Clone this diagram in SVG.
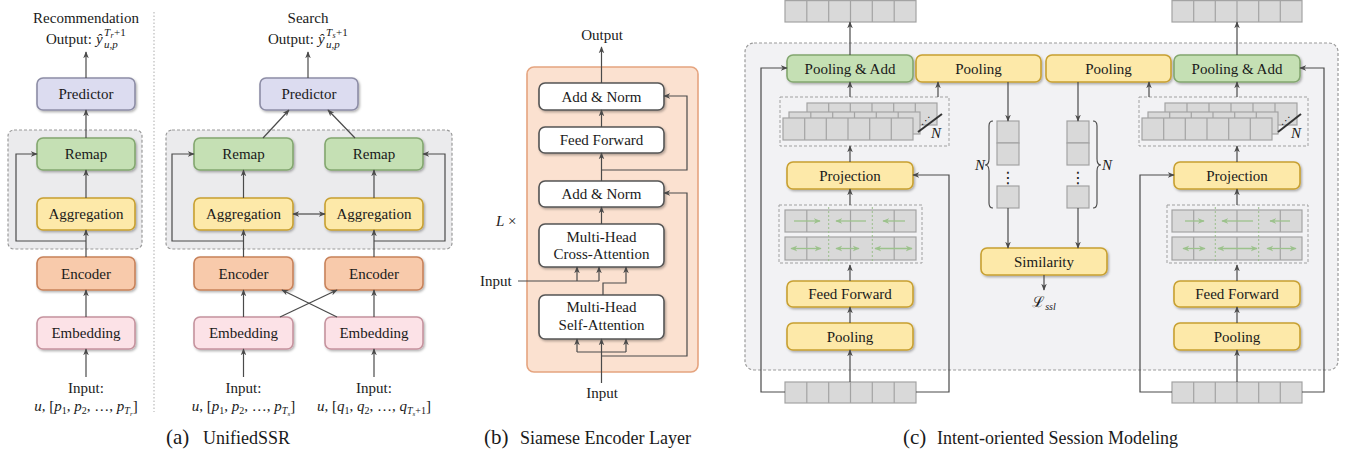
<svg xmlns="http://www.w3.org/2000/svg" width="1351" height="457" viewBox="0 0 1351 457">
<defs>
<style>
.t{font-family:"Liberation Serif","Times New Roman",serif;font-size:15px;fill:#1a1a1a;text-anchor:middle}
.ts{font-family:"Liberation Serif","Times New Roman",serif;font-size:15px;fill:#1a1a1a}
.i{font-style:italic}
.ln{fill:none;stroke:#4a4a4a;stroke-width:1.2}
.a{marker-end:url(#ah)}
.da{marker-start:url(#ah);marker-end:url(#ah)}
.bx{stroke-width:1.6;filter:url(#sh)}
.pred{fill:#dcdcf0;stroke:#8d8da6}
.remap{fill:#c5e0b4;stroke:#83a76f}
.agg{fill:#fde9a9;stroke:#c8a030}
.enc{fill:#f8caab;stroke:#c8825a}
.emb{fill:#fce2e7;stroke:#c5939e}
.wh{fill:#fff;stroke:#555}
.grp{fill:#ebebed;stroke:#9a9a9a;stroke-width:1.2;stroke-dasharray:3 2}
.cell{fill:#d9d9d9;stroke:#a3a3a3;stroke-width:1.2}
.dv{stroke:#a3a3a3;stroke-width:1.2;fill:none}
.dbox{fill:none;stroke:#a0a0a0;stroke-width:1;stroke-dasharray:3 2}
.gsep{stroke:#9cbf8c;stroke-width:1;stroke-dasharray:2 2;fill:none}
.ga{stroke:#9cc28c;stroke-width:1.3;fill:none;marker-end:url(#gh)}
.gda{stroke:#9cc28c;stroke-width:1.3;fill:none;marker-start:url(#gh);marker-end:url(#gh)}
.cap{font-family:"Liberation Serif","Times New Roman",serif;fill:#1a1a1a}
.sym{font-family:"DejaVu Sans",sans-serif;fill:#1a1a1a;text-anchor:middle}
</style>
<marker id="ah" viewBox="0 0 10 10" refX="9" refY="5" markerWidth="7" markerHeight="7" markerUnits="userSpaceOnUse" orient="auto-start-reverse"><path d="M0,1 L10,5 L0,9 L3,5 z" fill="#4a4a4a"/></marker>
<marker id="gh" viewBox="0 0 10 10" refX="9" refY="5" markerWidth="7" markerHeight="7" markerUnits="userSpaceOnUse" orient="auto-start-reverse"><path d="M0,1 L10,5 L0,9 L3,5 z" fill="#9cc28c"/></marker>
<filter id="sh" x="-10%" y="-20%" width="130%" height="160%"><feDropShadow dx="1.2" dy="1.5" stdDeviation="1" flood-color="#000" flood-opacity="0.3"/></filter>
</defs>

<!-- ============ (a) UnifiedSSR ============ -->
<g id="a-rec-group"><rect class="grp" x="8" y="130" width="134" height="119" rx="6"/></g>
<g id="a-srch-group"><rect class="grp" x="166" y="130" width="286" height="119" rx="6"/></g>
<line x1="154" y1="12" x2="154" y2="412" stroke="#bbbbbb" stroke-width="1.2" stroke-dasharray="1.5 2"/>

<g id="a-rec-title">
<text class="t" x="86" y="23">Recommendation</text>
<text class="ts"><tspan x="46" y="44">Output:</tspan><tspan class="i" x="96" y="44">ŷ</tspan><tspan class="i" x="104" y="36" font-size="11">T</tspan><tspan class="i" x="110.5" y="38" font-size="8">r</tspan><tspan x="114" y="36" font-size="11">+1</tspan><tspan class="i" x="104" y="48" font-size="11">u,p</tspan></text>
</g>
<g id="a-rec-predictor"><rect class="bx pred" x="37" y="78" width="98" height="32" rx="6"/><text class="t" x="86" y="99">Predictor</text></g>
<g id="a-rec-remap"><rect class="bx remap" x="37" y="138" width="98" height="32" rx="6"/><text class="t" x="86" y="159">Remap</text></g>
<g id="a-rec-agg"><rect class="bx agg" x="37" y="198" width="98" height="32" rx="6"/><text class="t" x="86" y="219">Aggregation</text></g>
<g id="a-rec-enc"><rect class="bx enc" x="37" y="257" width="98" height="33" rx="6"/><text class="t" x="86" y="278.5">Encoder</text></g>
<g id="a-rec-emb"><rect class="bx emb" x="37" y="317" width="98" height="32" rx="6"/><text class="t" x="86" y="338">Embedding</text></g>
<g id="a-rec-input">
<text class="t" x="86" y="393">Input:</text>
<text class="t" x="86" y="411"><tspan class="i">u</tspan>, [<tspan class="i">p</tspan><tspan font-size="10" dy="3">1</tspan><tspan dy="-3">, </tspan><tspan class="i">p</tspan><tspan font-size="10" dy="3">2</tspan><tspan dy="-3">, …, </tspan><tspan class="i">p</tspan><tspan class="i" font-size="10" dy="3">T</tspan><tspan class="i" font-size="7" dy="2">r</tspan><tspan dy="-5">]</tspan></text>
</g>

<g id="a-srch-title">
<text class="t" x="308" y="23">Search</text>
<text class="ts"><tspan x="268" y="44">Output:</tspan><tspan class="i" x="318" y="44">ŷ</tspan><tspan class="i" x="326" y="36" font-size="11">T</tspan><tspan class="i" x="332.5" y="38" font-size="8">s</tspan><tspan x="336" y="36" font-size="11">+1</tspan><tspan class="i" x="326" y="48" font-size="11">u,p</tspan></text>
</g>
<g id="a-srch-predictor"><rect class="bx pred" x="260" y="78" width="98" height="32" rx="6"/><text class="t" x="309" y="99">Predictor</text></g>
<g id="a-srch-remap-l"><rect class="bx remap" x="194" y="138" width="99" height="32" rx="6"/><text class="t" x="243.5" y="159">Remap</text></g>
<g id="a-srch-remap-r"><rect class="bx remap" x="325" y="138" width="98" height="32" rx="6"/><text class="t" x="374" y="159">Remap</text></g>
<g id="a-srch-agg-l"><rect class="bx agg" x="194" y="198" width="99" height="32" rx="6"/><text class="t" x="243.5" y="219">Aggregation</text></g>
<g id="a-srch-agg-r"><rect class="bx agg" x="325" y="198" width="98" height="32" rx="6"/><text class="t" x="374" y="219">Aggregation</text></g>
<g id="a-srch-enc-l"><rect class="bx enc" x="194" y="257" width="99" height="33" rx="6"/><text class="t" x="243.5" y="278.5">Encoder</text></g>
<g id="a-srch-enc-r"><rect class="bx enc" x="325" y="257" width="98" height="33" rx="6"/><text class="t" x="374" y="278.5">Encoder</text></g>
<g id="a-srch-emb-l"><rect class="bx emb" x="194" y="317" width="99" height="32" rx="6"/><text class="t" x="243.5" y="338">Embedding</text></g>
<g id="a-srch-emb-r"><rect class="bx emb" x="325" y="317" width="98" height="32" rx="6"/><text class="t" x="374" y="338">Embedding</text></g>
<g id="a-srch-input-l">
<text class="t" x="243.5" y="393">Input:</text>
<text class="t" x="243.5" y="411"><tspan class="i">u</tspan>, [<tspan class="i">p</tspan><tspan font-size="10" dy="3">1</tspan><tspan dy="-3">, </tspan><tspan class="i">p</tspan><tspan font-size="10" dy="3">2</tspan><tspan dy="-3">, …, </tspan><tspan class="i">p</tspan><tspan class="i" font-size="10" dy="3">T</tspan><tspan class="i" font-size="7" dy="2">s</tspan><tspan dy="-5">]</tspan></text>
</g>
<g id="a-srch-input-r">
<text class="t" x="374" y="393">Input:</text>
<text class="t" x="374" y="411"><tspan class="i">u</tspan>, [<tspan class="i">q</tspan><tspan font-size="10" dy="3">1</tspan><tspan dy="-3">, </tspan><tspan class="i">q</tspan><tspan font-size="10" dy="3">2</tspan><tspan dy="-3">, …, </tspan><tspan class="i">q</tspan><tspan class="i" font-size="10" dy="3">T</tspan><tspan class="i" font-size="7" dy="2">s</tspan><tspan font-size="10" dy="-2">+1</tspan><tspan dy="-3">]</tspan></text>
</g>
<g id="a-caption"><text class="cap"><tspan x="166" y="444" font-size="21">(a)</tspan><tspan x="203" y="444" font-size="18">UnifiedSSR</tspan></text></g>

<!-- ============ (b) Siamese Encoder Layer ============ -->
<g id="b-container"><rect x="527" y="67" width="171" height="305" rx="7" fill="#fbe1d0" stroke="#e5a47f" stroke-width="1.6"/></g>
<g id="b-output"><text class="t" x="602" y="40">Output</text></g>
<g id="b-addnorm1"><rect class="bx wh" x="539" y="83" width="125" height="27" rx="6"/><text class="t" x="601.5" y="101.5">Add &amp; Norm</text></g>
<g id="b-ff"><rect class="bx wh" x="539" y="127" width="125" height="26" rx="6"/><text class="t" x="601.5" y="145">Feed Forward</text></g>
<g id="b-addnorm2"><rect class="bx wh" x="539" y="181" width="125" height="26" rx="6"/><text class="t" x="601.5" y="199">Add &amp; Norm</text></g>
<g id="b-cross"><rect class="bx wh" x="539" y="224" width="125" height="43" rx="6"/><text class="t" x="601.5" y="242">Multi-Head</text><text class="t" x="601.5" y="259">Cross-Attention</text></g>
<g id="b-self"><rect class="bx wh" x="539" y="295" width="125" height="44" rx="6"/><text class="t" x="601.5" y="312">Multi-Head</text><text class="t" x="601.5" y="330">Self-Attention</text></g>
<g id="b-lx"><text class="ts" x="496" y="226" font-size="16"><tspan class="i">L</tspan> ×</text></g>
<g id="b-input-side"><text class="ts" x="480" y="286">Input</text></g>
<g id="b-input-bottom"><text class="t" x="602" y="398">Input</text></g>
<g id="b-caption"><text class="cap"><tspan x="484" y="444" font-size="21">(b)</tspan><tspan x="520" y="444" font-size="18">Siamese Encoder Layer</tspan></text></g>

<!-- ============ (c) Intent-oriented Session Modeling ============ -->
<g id="c-container"><rect x="745" y="43" width="593" height="327" rx="9" fill="#f2f2f4" stroke="#9a9a9a" stroke-width="1.2" stroke-dasharray="3 2"/></g>

<g id="c-strip-top-l"><rect class="cell" x="785" y="0.6" width="131" height="21.4"/><path class="dv" d="M806.8,0.6V22M828.7,0.6V22M850.5,0.6V22M872.3,0.6V22M894.2,0.6V22"/></g>
<g id="c-strip-top-r"><rect class="cell" x="1172" y="0.6" width="130" height="21.4"/><path class="dv" d="M1193.7,0.6V22M1215.3,0.6V22M1237,0.6V22M1258.7,0.6V22M1280.3,0.6V22"/></g>
<g id="c-strip-bot-l"><rect class="cell" x="785" y="382" width="131" height="21"/><path class="dv" d="M806.8,382V403M828.7,382V403M850.5,382V403M872.3,382V403M894.2,382V403"/></g>
<g id="c-strip-bot-r"><rect class="cell" x="1172" y="382" width="130" height="21"/><path class="dv" d="M1193.7,382V403M1215.3,382V403M1237,382V403M1258.7,382V403M1280.3,382V403"/></g>

<g id="c-pooladd-l"><rect class="bx remap" x="787" y="55" width="126" height="27" rx="6"/><text class="t" x="850" y="73.5">Pooling &amp; Add</text></g>
<g id="c-pool-1"><rect class="bx agg" x="916" y="55" width="125" height="27" rx="6"/><text class="t" x="978.5" y="73.5">Pooling</text></g>
<g id="c-pool-2"><rect class="bx agg" x="1046" y="55" width="125" height="27" rx="6"/><text class="t" x="1108.5" y="73.5">Pooling</text></g>
<g id="c-pooladd-r"><rect class="bx remap" x="1174" y="55" width="126" height="27" rx="6"/><text class="t" x="1237" y="73.5">Pooling &amp; Add</text></g>

<g id="c-stack-l">
<rect class="dbox" x="780" y="97" width="169" height="49"/>
<rect class="cell" x="807" y="103" width="130" height="22"/><path class="dv" d="M828.7,103V125M850.3,103V125M872,103V125M893.7,103V125M915.3,103V125"/>
<rect class="cell" x="789" y="112" width="131" height="22"/><path class="dv" d="M810.8,112V134M832.7,112V134M854.5,112V134M876.3,112V134M898.2,112V134"/>
<rect class="cell" x="783" y="118" width="130" height="22"/><path class="dv" d="M804.7,118V140M826.3,118V140M848,118V140M869.7,118V140M891.3,118V140"/>
<line x1="918" y1="132" x2="942" y2="114" stroke="#333" stroke-width="2"/>
<text class="sym" x="926" y="124" font-size="10">⋰</text>
<text class="ts i" x="931" y="138">N</text>
</g>
<g id="c-stack-r">
<rect class="dbox" x="1139" y="97" width="169" height="49"/>
<rect class="cell" x="1165" y="103" width="132" height="22"/><path class="dv" d="M1187,103V125M1209,103V125M1231,103V125M1253,103V125M1275,103V125"/>
<rect class="cell" x="1148" y="112" width="130" height="22"/><path class="dv" d="M1169.7,112V134M1191.3,112V134M1213,112V134M1234.7,112V134M1256.3,112V134"/>
<rect class="cell" x="1142" y="118" width="130" height="22"/><path class="dv" d="M1163.7,118V140M1185.3,118V140M1207,118V140M1228.7,118V140M1250.3,118V140"/>
<line x1="1278" y1="132" x2="1301" y2="114" stroke="#333" stroke-width="2"/>
<text class="sym" x="1286" y="124" font-size="10">⋰</text>
<text class="ts i" x="1291" y="138">N</text>
</g>

<g id="c-proj-l"><rect class="bx agg" x="787" y="162" width="126" height="27" rx="6"/><text class="t" x="850" y="180.5">Projection</text></g>
<g id="c-proj-r"><rect class="bx agg" x="1174" y="162" width="126" height="27" rx="6"/><text class="t" x="1237" y="180.5">Projection</text></g>

<g id="c-dir-l">
<rect class="dbox" x="779" y="205" width="143" height="58"/>
<rect class="cell" x="785" y="210" width="131" height="22"/><rect class="cell" x="785" y="237" width="131" height="23"/>
<path class="dv" d="M806.8,210V232M850.5,210V232M894.2,210V232M806.8,237V260M850.5,237V260M894.2,237V260"/>
<path class="gsep" d="M828.7,207V262M872.3,207V262"/>
<line class="ga" x1="794" y1="221" x2="820" y2="221"/>
<line class="ga" x1="866" y1="221" x2="836" y2="221"/>
<line class="ga" x1="905" y1="221" x2="883" y2="221"/>
<line class="gda" x1="791" y1="248.5" x2="821" y2="248.5"/>
<line class="gda" x1="836" y1="248.5" x2="859" y2="248.5"/>
<line class="gda" x1="875" y1="248.5" x2="912" y2="248.5"/>
</g>
<g id="c-dir-r">
<rect class="dbox" x="1167" y="205" width="141" height="58"/>
<rect class="cell" x="1172" y="210" width="130" height="22"/><rect class="cell" x="1172" y="237" width="130" height="23"/>
<path class="dv" d="M1193.7,210V232M1237,210V232M1280.3,210V232M1193.7,237V260M1237,237V260M1280.3,237V260"/>
<path class="gsep" d="M1215.3,207V262M1258.7,207V262"/>
<line class="ga" x1="1185" y1="221" x2="1204" y2="221"/>
<line class="ga" x1="1253" y1="221" x2="1222" y2="221"/>
<line class="ga" x1="1290" y1="221" x2="1270" y2="221"/>
<line class="gda" x1="1183" y1="248.5" x2="1205" y2="248.5"/>
<line class="gda" x1="1218" y1="248.5" x2="1257" y2="248.5"/>
<line class="gda" x1="1267" y1="248.5" x2="1296" y2="248.5"/>
</g>

<g id="c-ff-l"><rect class="bx agg" x="787" y="281" width="126" height="26" rx="6"/><text class="t" x="850" y="299">Feed Forward</text></g>
<g id="c-ff-r"><rect class="bx agg" x="1174" y="281" width="126" height="26" rx="6"/><text class="t" x="1237" y="299">Feed Forward</text></g>
<g id="c-poolb-l"><rect class="bx agg" x="787" y="323" width="126" height="27" rx="6"/><text class="t" x="850" y="341.5">Pooling</text></g>
<g id="c-poolb-r"><rect class="bx agg" x="1174" y="323" width="126" height="27" rx="6"/><text class="t" x="1237" y="341.5">Pooling</text></g>

<g id="c-col-l">
<rect class="cell" x="997" y="121" width="22" height="22"/><rect class="cell" x="997" y="143" width="22" height="22"/>
<text class="sym" x="1008" y="183" font-size="16">⋮</text>
<rect class="cell" x="997" y="186" width="22" height="22"/>
<path d="M993,121 Q989,121 989,126 L989,159 Q989,165 985,165 Q989,165 989,171 L989,203 Q989,208 993,208" fill="none" stroke="#444" stroke-width="1.1"/>
<text class="ts i" x="975" y="170">N</text>
</g>
<g id="c-col-r">
<rect class="cell" x="1067" y="121" width="22" height="22"/><rect class="cell" x="1067" y="143" width="22" height="22"/>
<text class="sym" x="1078" y="183" font-size="16">⋮</text>
<rect class="cell" x="1067" y="186" width="22" height="22"/>
<path d="M1093,121 Q1097,121 1097,126 L1097,159 Q1097,165 1101,165 Q1097,165 1097,171 L1097,203 Q1097,208 1093,208" fill="none" stroke="#444" stroke-width="1.1"/>
<text class="ts i" x="1102" y="170">N</text>
</g>
<g id="c-similarity"><rect class="bx agg" x="981" y="248" width="126" height="27" rx="6"/><text class="t" x="1044" y="266.5">Similarity</text></g>
<g id="c-lssl"><text class="t" x="1044" y="307"><tspan font-family="DejaVu Serif, serif" font-size="15">ℒ</tspan><tspan class="i" font-size="10" dy="3">ssl</tspan></text></g>
<g id="c-caption"><text class="cap"><tspan x="903" y="444" font-size="21">(c)</tspan><tspan x="937" y="444" font-size="18">Intent-oriented Session Modeling</tspan></text></g>

<!-- ============ connectors ============ -->
<g id="connectors" class="ln">
<path class="a" d="M86,78V52"/>
<path class="a" d="M86,138V110"/>
<path class="a" d="M86,198V170"/>
<path class="a" d="M86,257V230"/>
<path class="a" d="M86,317V290"/>
<path class="a" d="M86,377V349"/>
<path class="a" d="M86,241H16V154H37"/>
<path class="a" d="M308,78V52"/>
<path class="a" d="M263,138L289,110"/>
<path class="a" d="M355,138L328,110"/>
<path class="a" d="M243.5,198V170"/>
<path class="a" d="M374,198V170"/>
<path class="da" d="M293,214H325"/>
<path class="a" d="M243.5,257V230"/>
<path class="a" d="M374,257V230"/>
<path class="a" d="M243.5,241H172V154H194"/>
<path class="a" d="M374,241H445V154H423"/>
<path class="a" d="M243.5,317V290"/>
<path class="a" d="M374,317V290"/>
<path class="a" d="M280,317L337,290"/>
<path class="a" d="M337,317L282,290"/>
<path class="a" d="M243.5,377V349"/>
<path class="a" d="M374,377V349"/>
<path class="a" d="M601.5,83V47"/>
<path class="a" d="M601.5,127V110"/>
<path class="a" d="M601.5,181V153"/>
<path class="a" d="M601.5,170H687V96H664"/>
<path class="a" d="M601.5,224V207"/>
<path class="a" d="M601.5,356H687V193H664"/>
<path d="M601.5,383V352M577,352H626"/>
<path class="a" d="M577,352V339"/>
<path class="a" d="M601.5,352V339"/>
<path class="a" d="M626,352V339"/>
<path d="M518,281H599"/>
<path class="a" d="M577,281V267"/>
<path class="a" d="M599,281V267"/>
<path class="a" d="M603,295V283H626V267"/>
<path class="a" d="M850,55V22"/>
<path class="a" d="M1237,55V22"/>
<path class="a" d="M785,392H761V68H787"/>
<path class="a" d="M1302,392H1324V68H1300"/>
<path class="a" d="M916,392H949V175H913"/>
<path class="a" d="M1172,392H1140V175H1174"/>
<path class="a" d="M850,382V350"/>
<path class="a" d="M850,323V307"/>
<path class="a" d="M850,281V265"/>
<path class="a" d="M850,205V189"/>
<path class="a" d="M850,162V146"/>
<path class="a" d="M850,97V82"/>
<path class="a" d="M938,97V82"/>
<path class="a" d="M1237,382V350"/>
<path class="a" d="M1237,323V307"/>
<path class="a" d="M1237,281V265"/>
<path class="a" d="M1237,205V189"/>
<path class="a" d="M1237,162V146"/>
<path class="a" d="M1237,97V82"/>
<path class="a" d="M1149,97V82"/>
<path class="a" d="M1008,82V121"/>
<path class="a" d="M1078,82V121"/>
<path class="a" d="M1008,208V248"/>
<path class="a" d="M1078,208V248"/>
<path class="a" d="M1044,275V290"/>
</g>
</svg>
